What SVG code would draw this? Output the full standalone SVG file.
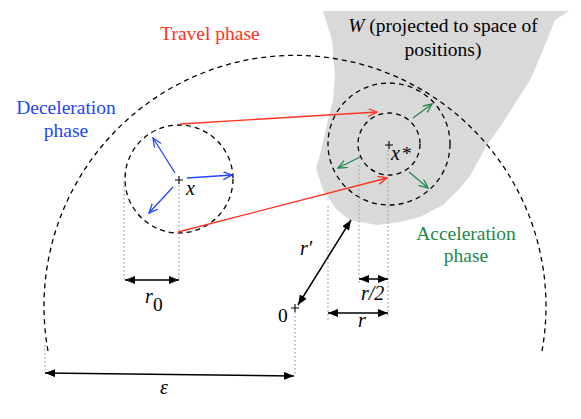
<svg xmlns="http://www.w3.org/2000/svg" width="581" height="419" viewBox="0 0 581 419">
<style>
text{font-family:'Liberation Serif','DejaVu Serif',serif}
.t{font-size:19.5px}
.m{font-style:italic;font-size:20px;fill:#000}
.dash{fill:none;stroke:#000;stroke-width:1.3;stroke-dasharray:5 4}
.dot{fill:none;stroke:#999;stroke-width:1.2;stroke-dasharray:1.5 2.5}
.blk{fill:none;stroke:#000;stroke-width:1.5;marker-start:url(#ab);marker-end:url(#ab)}
.red{fill:none;stroke:#ff3322;stroke-width:1.3;marker-end:url(#ar)}
.blu{fill:none;stroke:#2244ff;stroke-width:1.3;marker-end:url(#au)}
.grn{fill:none;stroke:#22884a;stroke-width:1.3;marker-end:url(#ag)}
.pl{stroke:#000;stroke-width:1.1}
</style>
<defs>
<marker id="ab" markerUnits="userSpaceOnUse" markerWidth="12" markerHeight="10" refX="10" refY="4" orient="auto-start-reverse"><path d="M0,0 L10,4 L0,8 Z" fill="#000"/></marker>
<marker id="ar" markerUnits="userSpaceOnUse" markerWidth="12" markerHeight="12" refX="9" refY="4" orient="auto"><path d="M0,0 L9,4 L0,8" fill="none" stroke="#ff3322" stroke-width="1.3"/></marker>
<marker id="au" markerUnits="userSpaceOnUse" markerWidth="12" markerHeight="12" refX="9" refY="4" orient="auto"><path d="M0,0 L9,4 L0,8" fill="none" stroke="#2244ff" stroke-width="1.3"/></marker>
<marker id="ag" markerUnits="userSpaceOnUse" markerWidth="12" markerHeight="12" refX="9" refY="4" orient="auto"><path d="M0,0 L9,4 L0,8" fill="none" stroke="#22884a" stroke-width="1.3"/></marker>
</defs>

<g id="W-region">
<polygon points="323,11 569,11 555,20 547,40 538,62 530,80 516,102 500,127 487,145 477,163 470,176 460,188 450,198 443,205 420,217 400,222 377,225 350,220 337,210 323,190 316,168 320,155 328,120 333,100 335,75 332,40" fill="#d9d9d9"/>
<text class="t" x="443" y="32" text-anchor="middle"><tspan font-style="italic">W</tspan> (projected to space of</text>
<text class="t" x="443" y="56" text-anchor="middle">positions)</text>
</g>

<g id="epsilon-ball">
<path class="dash" d="M48,351 A251,251 0 1 1 542,351"/>
</g>

<g id="start-ball">
<circle class="dash" cx="179" cy="179" r="54"/>
<path class="pl" d="M175,180 H183 M179,176 V184"/>
<text class="m" x="186" y="195">x</text>
</g>

<g id="target-balls">
<circle class="dash" cx="389" cy="144" r="61"/>
<circle class="dash" cx="389" cy="144" r="31"/>
<path class="pl" d="M385,145 H393 M389,141 V149"/>
<text class="m" x="391" y="160">x</text>
<text class="t" x="402" y="160" font-size="18">*</text>
</g>

<g id="origin">
<path class="pl" d="M291,308 H299 M295,304 V312"/>
<text class="t" x="278" y="322">0</text>
</g>

<g id="labels">
<text class="t" x="210" y="40" text-anchor="middle" fill="#ff3322">Travel phase</text>
<text class="t" x="66" y="114" text-anchor="middle" fill="#2244ff">Deceleration</text>
<text class="t" x="66" y="137" text-anchor="middle" fill="#2244ff">phase</text>
<text class="t" x="466" y="240" text-anchor="middle" fill="#22884a">Acceleration</text>
<text class="t" x="466" y="262" text-anchor="middle" fill="#22884a">phase</text>
<text class="m" x="145" y="303">r</text>
<text class="t" x="153" y="311" font-size="17">0</text>
<text class="m" x="300" y="255">r′</text>
<text class="m" x="361" y="300">r/2</text>
<text class="m" x="358" y="327">r</text>
<text class="m" x="160" y="394">ε</text>
</g>

<g id="connectors">
<path class="dot" d="M124,182 V280 M179,185 V280 M328,206 V320 M359,165 V285 M388,150 V318 M295,312 V376 M45,345 V373"/>
<path class="red" d="M180,124 L377,112"/>
<path class="red" d="M178,232 L387,178"/>
<path class="blu" d="M187,178 L232,175"/>
<path class="blu" d="M175,173 L153,138"/>
<path class="blu" d="M173,187 L149,213"/>
<path class="grn" d="M413,118 L432,104"/>
<path class="grn" d="M360,157 L338,168"/>
<path class="grn" d="M409,172 L428,188"/>
<path class="blk" d="M125,280 L179,280"/>
<path class="blk" d="M359,279 L388,279"/>
<path class="blk" d="M328,313 L388,313"/>
<path class="blk" d="M298,305 L351,220"/>
<path class="blk" d="M45,373 L294,376"/>
</g>
</svg>
